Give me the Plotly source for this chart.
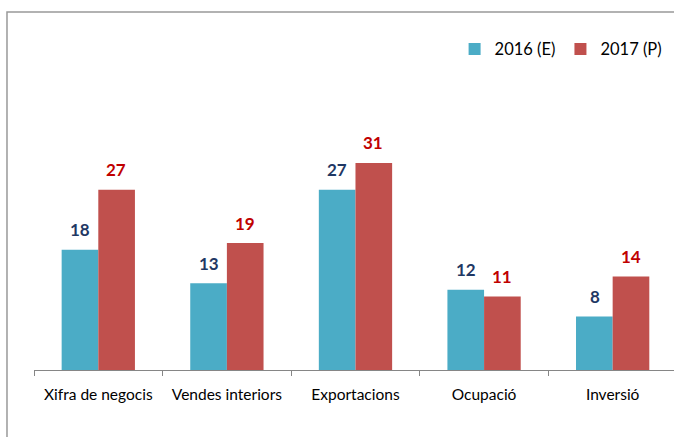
import plotly.graph_objects as go

categories = ["Xifra de negocis", "Vendes interiors", "Exportacions", "Ocupació", "Inversió"]
values_2016 = [18, 13, 27, 12, 8]
values_2017 = [27, 19, 31, 11, 14]
series_names = ["2016 (E)", "2017 (P)"]

C16 = "#4BACC6"
C17 = "#C0504D"
L16 = "#1F3864"
L17 = "#C00000"
FONT = "Lato, Calibri, Carlito, 'Open Sans', sans-serif"

fig = go.Figure()
fig.add_trace(go.Bar(x=categories, y=values_2016, name=series_names[0],
                     marker=dict(color=C16, line=dict(width=0))))
fig.add_trace(go.Bar(x=categories, y=values_2017, name=series_names[1],
                     marker=dict(color=C17, line=dict(width=0))))

annotations = []
for cat, v in zip(categories, values_2016):
    annotations.append(dict(x=cat, y=v, xref="x", yref="y", text=str(v), showarrow=False,
                            xshift=-18, yshift=20, yanchor="middle",
                            font=dict(family=FONT, size=17, color=L16, weight="bold")))
for cat, v in zip(categories, values_2017):
    annotations.append(dict(x=cat, y=v, xref="x", yref="y", text=str(v), showarrow=False,
                            xshift=18, yshift=20, yanchor="middle",
                            font=dict(family=FONT, size=17, color=L17, weight="bold")))

fig.update_layout(
    width=674, height=437,
    margin=dict(l=34, r=0, t=12, b=67),
    paper_bgcolor="white", plot_bgcolor="white",
    barmode="group", bargap=0.43, bargroupgap=0,
    font=dict(family=FONT, size=15, color="#000000"),
    showlegend=True,
    legend=dict(orientation="h", x=0.99, xanchor="right", y=0.945, yanchor="top",
                font=dict(family=FONT, size=16.5, color="#000000"),
                bgcolor="rgba(0,0,0,0)", traceorder="normal", itemwidth=30),
    xaxis=dict(type="category", range=[-0.5, 4.477], showgrid=False,
               showline=True, linecolor="#868686", linewidth=1,
               ticks="outside", tickson="boundaries", ticklen=5, tickcolor="#868686",
               ticklabelstandoff=10,
               tickfont=dict(family=FONT, size=15.5, color="#000000")),
    yaxis=dict(range=[0, 53.6], visible=False, showgrid=False, zeroline=False),
    annotations=annotations,
    shapes=[dict(type="rect", xref="paper", yref="paper",
                 x0=-0.0422, x1=1.2, y0=-0.6, y1=1.0,
                 line=dict(color="#999999", width=1.5), fillcolor="rgba(0,0,0,0)",
                 layer="below")],
)

fig.write_html("out.html", config={"displayModeBar": False},
               post_script="document.body.style.margin='0';document.body.style.overflow='hidden';")
